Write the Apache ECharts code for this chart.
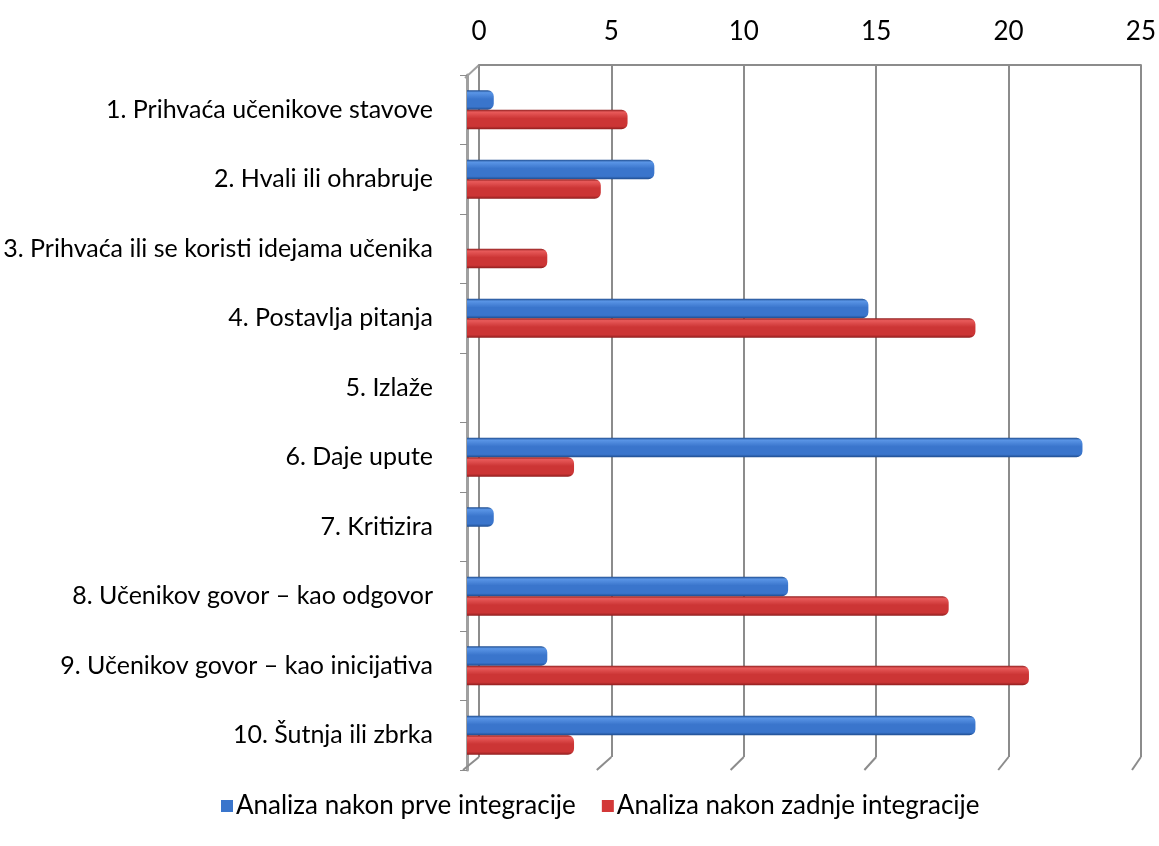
<!DOCTYPE html>
<html><head><meta charset="utf-8">
<script src="https://cdn.jsdelivr.net/npm/echarts@6/dist/echarts.min.js"></script>
<style>html,body{margin:0;padding:0;background:#fff}#c{width:1159px;height:846px}</style>
</head><body><div id="c"></div>
<script>
const categories = [
  "1. Prihvaća učenikove stavove",
  "2. Hvali ili ohrabruje",
  "3. Prihvaća ili se koristi idejama učenika",
  "4. Postavlja pitanja",
  "5. Izlaže",
  "6. Daje upute",
  "7. Kritizira",
  "8. Učenikov govor – kao odgovor",
  "9. Učenikov govor – kao inicijativa",
  "10. Šutnja ili zbrka"
];
const seriesNames = ["Analiza nakon prve integracije", "Analiza nakon zadnje integracije"];
const firstValues = [1, 7, 0, 15, 0, 23, 1, 12, 3, 19];
const lastValues = [6, 5, 3, 19, 0, 4, 0, 18, 21, 4];
const xTicks = [0, 5, 10, 15, 20, 25];

const font = "Lato, 'Open Sans', sans-serif";
function grad(dark, mid, light) {
  return new echarts.graphic.LinearGradient(0, 0, 0, 1, [
    {offset: 0, color: dark}, {offset: 0.12, color: light}, {offset: 0.45, color: mid},
    {offset: 0.85, color: mid}, {offset: 1, color: dark}
  ]);
}
const chart = echarts.init(document.getElementById('c'));
chart.setOption({
  animation: false,
  backgroundColor: '#fff',
  grid: [
    {left: 479, right: 11, top: 65, bottom: 89},
    {left: 467, right: 23, top: 75, bottom: 76}
  ],
  legend: {
    top: 788, left: 216, itemGap: 26, itemWidth: 12, itemHeight: 12,
    icon: 'rect',
    textStyle: {fontFamily: font, fontSize: 26, color: '#000', padding: [0, 0, 0, -2]},
    data: [
      {name: seriesNames[0], itemStyle: {color: '#3A75CC'}},
      {name: seriesNames[1], itemStyle: {color: '#D33838'}}
    ]
  },
  xAxis: [
    {
      gridIndex: 0, type: 'value', position: 'top', min: 0, max: 25, interval: 5,
      axisLabel: {fontFamily: font, fontSize: 26, color: '#000', margin: 20,
        formatter: v => xTicks.includes(v) ? String(v) : ''},
      axisLine: {show: true, lineStyle: {color: '#8c8c8c', width: 2}}, axisTick: {show: false},
      splitLine: {show: true, lineStyle: {color: '#8c8c8c', width: 2}}
    },
    {
      gridIndex: 1, type: 'value', min: 0, max: 25, interval: 5,
      axisLabel: {show: false}, axisLine: {show: false}, axisTick: {show: false}, splitLine: {show: false}
    }
  ],
  yAxis: [
    {gridIndex: 0, type: 'category', data: categories, show: false},
    {
      gridIndex: 1, type: 'category', inverse: true, data: categories,
      axisLabel: {fontFamily: font, fontSize: 25, color: '#000', margin: 34},
      axisLine: {show: true, lineStyle: {color: '#a0a0a0', width: 3}},
      axisTick: {show: true, length: 7, lineStyle: {color: '#8c8c8c'}}
    }
  ],
  series: [
    {name: seriesNames[0], type: 'bar', xAxisIndex: 1, yAxisIndex: 1, data: firstValues, barGap: '0%', barCategoryGap: '44%',
      itemStyle: {color: grad('#1E4C8E', '#3A75CC', '#5A95E6'), borderRadius: [0, 6, 6, 0]}},
    {name: seriesNames[1], type: 'bar', xAxisIndex: 1, yAxisIndex: 1, data: lastValues,
      itemStyle: {color: grad('#8E1E1E', '#CC3535', '#E85A5A'), borderRadius: [0, 6, 6, 0]}}
  ]
});
// slanted 3D floor segments of the grid lines, positioned from the axis scales
const backBottom = 846 - 89;
const frontBottom = 846 - 76;
const gfx = xTicks.map(v => {
  const xb = chart.convertToPixel({xAxisIndex: 0}, v);
  const xf = chart.convertToPixel({xAxisIndex: 1}, v);
  return {type: 'line', shape: {x1: xb, y1: backBottom, x2: xf - 4, y2: frontBottom},
    style: {stroke: '#8c8c8c', lineWidth: 2}, z: 1};
});
const x0b = chart.convertToPixel({xAxisIndex: 0}, 0);
gfx.push({type: 'line', shape: {x1: x0b, y1: 65, x2: x0b - 14, y2: 78},
  style: {stroke: '#a0a0a0', lineWidth: 2}});
chart.setOption({graphic: gfx});
</script></body></html>
